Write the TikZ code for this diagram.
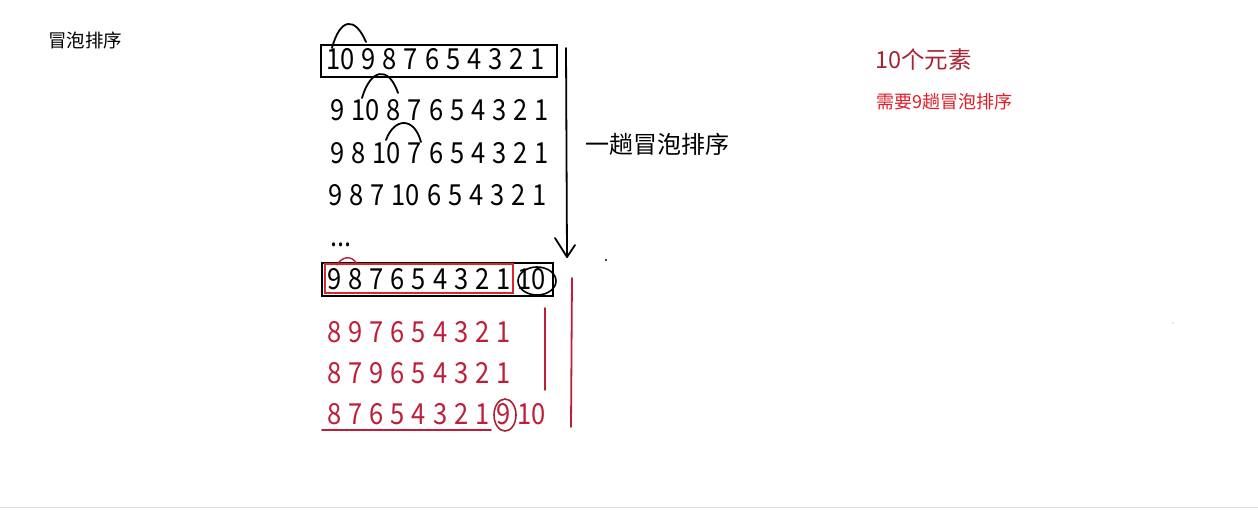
\documentclass[tikz,border=0pt]{standalone}
\usepackage{fontspec}
\setmainfont{Noto Sans CJK SC}
\newfontfamily\digitfont[FakeStretch=0.88]{Noto Sans CJK SC}
\newcommand\mynumfont{\digitfont\fontsize{29}{31}\selectfont\spaceskip=7pt plus 0pt minus 0pt\relax}
\definecolor{myred}{RGB}{190,30,55}
\definecolor{darkred}{RGB}{168,36,52}
\definecolor{brightred}{RGB}{225,30,40}
\definecolor{boxred}{RGB}{215,40,45}
\begin{document}
\begin{tikzpicture}[x=1pt,y=-1pt,
  num/.style={anchor=base west, inner sep=0pt, font=\mynumfont},
  rednum/.style={num, text=myred},
  hand/.style={line width=1.8pt, line cap=round, line join=round},
  redhand/.style={hand, draw=myred},
  cjk/.style={anchor=west, inner sep=0pt}]
\useasboundingbox[fill=white] (0,0) rectangle (1258,509);
\draw[black!12, line width=1pt] (0,507) -- (1258,507);
% titles
\node[cjk, font=\fontsize{18.5}{20}\selectfont] (title) at (48,40) {冒泡排序};
\node[cjk, text=darkred, font=\fontsize{23.5}{25}\selectfont] (ten) at (875,60) {10个元素};
\node[cjk, text=brightred, font=\fontsize{18}{20}\selectfont] (nine) at (876,102) {需要9趟冒泡排序};
% black rows
\node[num] (r1) at (326,69) {10 9 8 7 6 5 4 3 2 1};
\node[num] (r2) at (330,120) {9 10 8 7 6 5 4 3 2 1};
\node[num] (r3) at (330,163) {9 8 10 7 6 5 4 3 2 1};
\node[num] (r4) at (328,205) {9 8 7 10 6 5 4 3 2 1};
\node[num] (dots) at (330,246) {...};
\node[num] (r5) at (327,289) {9 8 7 6 5 4 3 2 1 10};
% red rows
\node[rednum] (s1) at (327,342) {8 9 7 6 5 4 3 2 1};
\node[rednum] (s2) at (327,383) {8 7 9 6 5 4 3 2 1};
\node[rednum] (s3) at (327,424) {8 7 6 5 4 3 2 1 9 10};
% boxes
\draw[line width=2pt] (321,45) rectangle (557,77);
\draw[line width=2pt] (322,263) rectangle (553,296);
\draw[boxred, line width=2pt] (325,264) rectangle (513,293);
% circles
\draw[hand, line width=1.6pt] (537,281) ellipse [x radius=19, y radius=14];
\draw[hand, draw=darkred, line width=1.6pt] (505,415) ellipse [x radius=11, y radius=16];
% humps
\draw[hand] (332,48) .. controls (340,18) and (355,16) .. (366,42);
\draw[hand] (362,98) .. controls (370,70) and (388,64) .. (398,93);
\draw[hand] (386,140) .. controls (394,118) and (414,116) .. (421,142);
\draw[redhand, line width=1.4pt] (337,265) .. controls (342,256) and (352,255) .. (357,264);
% black arrow of one pass
\coordinate (atop) at (566,48);
\coordinate (abot) at (567,257);
\draw[hand] (atop) -- (abot);
\draw[hand] (555,238) -- (abot) -- (575,245);
\node[cjk, font=\fontsize{24}{26}\selectfont] (pass) at (585,144) {一趟冒泡排序};
\fill (606,260) circle (1.2);
\fill[black!40] (1173,323) circle (0.6);
% red lines
\draw[redhand] (572,278) -- (571,427);
\draw[redhand] (545,308) -- (545,390);
\draw[redhand] (322,430) -- (491,430);
\end{tikzpicture}
\end{document}
